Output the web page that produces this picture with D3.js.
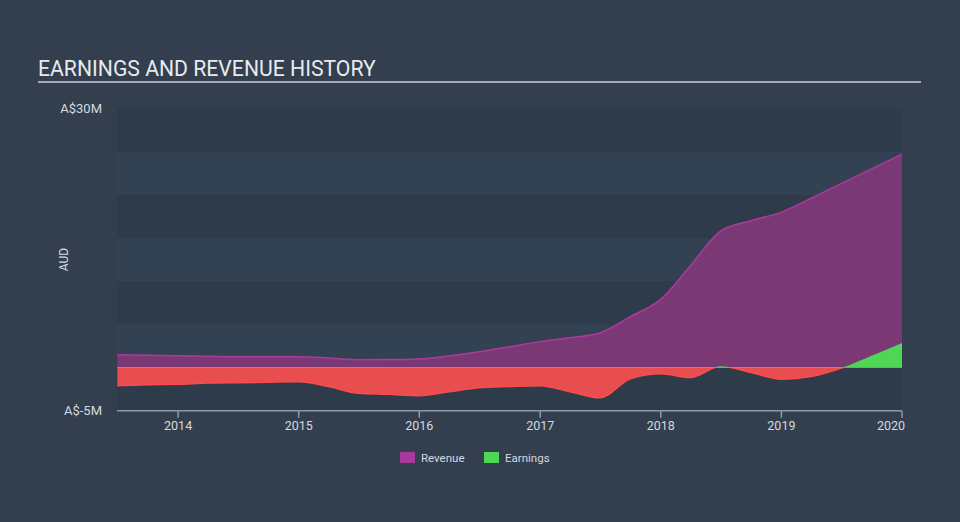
<!DOCTYPE html>
<html><head><meta charset="utf-8">
<script src="https://cdn.jsdelivr.net/npm/d3@7"></script>
<style>
html,body{margin:0;padding:0;background:#333f4f;}
svg{display:block;font-family:Roboto,"Open Sans",sans-serif;}
</style></head>
<body><svg id="c" width="960" height="522"></svg>
<script>
const dates = ["2013-07-01","2013-10-01","2014-01-01","2014-04-01","2014-07-01","2014-10-01","2015-01-01","2015-04-01","2015-07-01","2015-10-01","2016-01-01","2016-04-01","2016-07-01","2016-10-01","2017-01-01","2017-04-01","2017-07-01","2017-10-01","2018-01-01","2018-04-01","2018-07-01","2018-10-01","2019-01-01","2019-04-01","2019-07-01","2019-10-01","2020-01-01"];
const revenue = [1.48,1.42,1.36,1.3,1.25,1.25,1.25,1.1,0.9,0.92,1.0,1.35,1.83,2.4,3.0,3.45,4.0,5.9,7.9,11.8,15.8,17.0,18.0,19.6,21.3,23.0,24.7];
const earnings = [-2.1,-2.0,-1.93,-1.8,-1.75,-1.7,-1.66,-2.2,-2.98,-3.1,-3.26,-2.8,-2.33,-2.2,-2.1,-2.8,-3.5,-1.3,-0.73,-1.16,0.16,-0.58,-1.35,-1.05,-0.07,1.36,2.84];
const yTicks = [30,-5];
const yTickLabels = ["A$30M","A$-5M"];
const xTickYears = [2014,2015,2016,2017,2018,2019,2020];
const legendItems = [{name:"Revenue",color:"#a8389b"},{name:"Earnings",color:"#4fd654"}];

const svg = d3.select("#c");
const L=117,R=902,T=108.5,B=410.7;
const parse = d3.timeParse("%Y-%m-%d");
const data = dates.map((d,i)=>({date:parse(d),rev:revenue[i],earn:earnings[i]}));
const x = d3.scaleTime().domain([parse("2013-06-30"),parse("2020-01-01")]).range([L,R]);
const y = d3.scaleLinear().domain([-5,30]).range([B,T]);

// title
svg.append("text").attr("x",38).attr("y",76).attr("fill","#e8eaec").attr("font-size",21.2).text("EARNINGS AND REVENUE HISTORY");
svg.append("rect").attr("x",38).attr("y",81).attr("width",883).attr("height",2).attr("fill","#a3abb4");

// bands
const bandEdges = d3.range(-5,30,5);
bandEdges.forEach((v,i)=>{
  svg.append("rect").attr("x",L).attr("width",R-L).attr("y",y(v+5)).attr("height",y(v)-y(v+5))
    .attr("fill",(i%2===0)?"#2e3b4a":"#334253");
});

// revenue area
const curve = d3.curveMonotoneX;
svg.append("path").datum(data).attr("fill","#7a3874")
  .attr("d",d3.area().x(d=>x(d.date)).y0(y(0)).y1(d=>y(d.rev)).curve(curve));
svg.append("path").datum(data).attr("fill","none").attr("stroke","#b0399d").attr("stroke-width",1.5)
  .attr("d",d3.line().x(d=>x(d.date)).y(d=>y(d.rev)).curve(curve));

// earnings with clip
const defs = svg.append("defs");
defs.append("clipPath").attr("id","pos").append("rect").attr("x",L).attr("y",T).attr("width",R-L).attr("height",y(0)-T);
defs.append("clipPath").attr("id","neg").append("rect").attr("x",L).attr("y",y(0)).attr("width",R-L).attr("height",B-y(0));
const earnArea = d3.area().x(d=>x(d.date)).y0(y(0)).y1(d=>y(d.earn)).curve(curve);
const earnLine = d3.line().x(d=>x(d.date)).y(d=>y(d.earn)).curve(curve);
svg.append("path").datum(data).attr("clip-path","url(#pos)").attr("fill","#4fd654").attr("d",earnArea);
svg.append("path").datum(data).attr("clip-path","url(#neg)").attr("fill","#e84e50").attr("d",earnArea);
svg.append("path").datum(data).attr("clip-path","url(#neg)").attr("fill","none").attr("stroke","#ff4a4a").attr("stroke-width",1.5).attr("d",earnLine);
svg.append("line").attr("x1",L).attr("x2",R).attr("y1",y(0)).attr("y2",y(0)).attr("stroke","#e0707a").attr("stroke-width",1);

// y labels
yTicks.forEach((v,i)=>{
  svg.append("text").attr("x",102).attr("y",y(v)+4).attr("text-anchor","end").attr("fill","#d5d9de").attr("font-size",13).text(yTickLabels[i]);
});
svg.append("text").attr("transform","translate(68,"+((T+B)/2)+") rotate(-90)").attr("text-anchor","middle").attr("fill","#d5d9de").attr("font-size",12).text("AUD");

// x axis
const xa = svg.append("g").attr("transform","translate(0,"+B+")");
xa.append("line").attr("x1",L).attr("x2",R).attr("stroke","#8d99a6").attr("stroke-width",1.5);
xTickYears.forEach(yr=>{
  const xx = Math.min(x(new Date(yr,0,1)),R);
  xa.append("line").attr("x1",xx).attr("x2",xx).attr("y1",0).attr("y2",7).attr("stroke","#8d99a6").attr("stroke-width",1.5);
  xa.append("text").attr("x",xx).attr("y",19).attr("text-anchor",yr===2020?"end":"middle").attr("dx",yr===2020?3:0).attr("fill","#d5d9de").attr("font-size",12.5).text(yr);
});

// legend
const lg = svg.append("g");
legendItems.forEach((it,i)=>{
  const g = lg.append("g").attr("transform","translate("+(i===0?400:484)+",452)");
  g.append("rect").attr("width",15).attr("height",11).attr("fill",it.color);
  g.append("text").attr("x",21).attr("y",10).attr("fill","#d5d9de").attr("font-size",11.5).text(it.name);
});
</script></body></html>
